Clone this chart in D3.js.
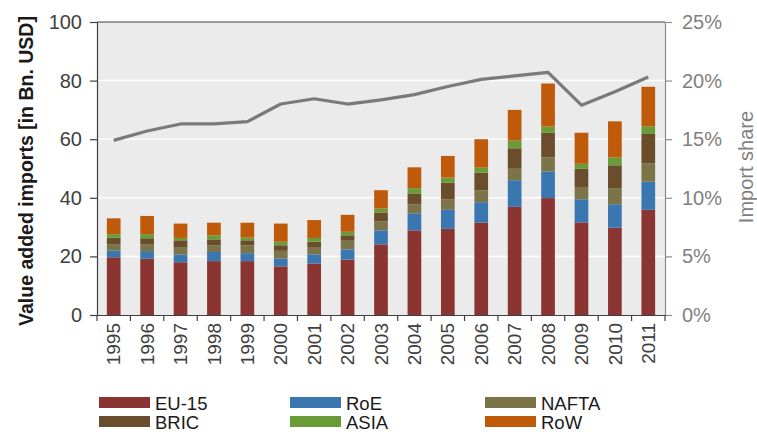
<!DOCTYPE html>
<html>
<head>
<meta charset="utf-8">
<script src="https://cdn.jsdelivr.net/npm/d3@7"></script>
<style>
  body { margin: 0; background: #fff; }
  text { font-family: "Liberation Sans", Arial, sans-serif; }
</style>
</head>
<body>
<script>
// values (Bn. USD)
var years = ["1995","1996","1997","1998","1999","2000","2001","2002","2003","2004","2005","2006","2007","2008","2009","2010","2011"];
var regions = ["EU-15","RoE","NAFTA","BRIC","ASIA","RoW"];
var colors = ["#8b3532","#3a77b0","#7b7449","#6a4d2d","#699b36","#bf5a0b"];

var eu15  = [19.7,19.2,18.0,18.4,18.4,16.6,17.6,18.9,24.1,28.9,29.4,31.5,36.9,39.9,31.6,29.8,35.9];
var roe   = [2.3,2.6,2.7,3.1,2.7,2.7,3.1,3.5,4.8,5.8,6.5,7.0,9.1,9.1,7.9,8.0,9.6];
var nafta = [2.2,2.4,2.5,2.3,2.6,2.6,2.5,3.2,3.1,3.1,3.6,4.1,3.9,4.8,4.2,5.5,6.3];
var bric  = [2.2,2.0,2.3,2.0,1.8,1.9,1.8,1.6,3.0,3.7,5.7,6.0,7.0,8.4,6.2,7.8,10.0];
var asia  = [1.2,1.4,0.8,1.4,0.9,1.2,1.3,1.2,1.3,1.8,1.7,1.7,2.6,2.1,1.7,2.7,2.6];
var row   = [5.4,6.2,4.9,4.3,5.1,6.2,6.1,5.8,6.3,7.1,7.4,9.7,10.5,14.7,10.6,12.3,13.5];

// import share in percent (right axis)
var importShare = [14.9,15.7,16.3,16.3,16.5,18.0,18.45,18.0,18.35,18.8,19.5,20.1,20.4,20.7,17.9,19.05,20.3];

var yTicks = [0,20,40,60,80,100];
var shareTicks = [0,5,10,15,20,25];

var width = 757, height = 434;
var plot = {left: 97, right: 665, top: 22, bottom: 315};

var svg = d3.select("body").append("svg")
            .attr("width", width)
            .attr("height", height);

var x = d3.scaleBand()
          .domain(years)
          .range([plot.left, plot.right]);
var y = d3.scaleLinear()
          .domain([0, 100])
          .range([plot.bottom, plot.top]);
var yShare = d3.scaleLinear()
               .domain([0, 25])
               .range([plot.bottom, plot.top]);

// plot background and gridlines
svg.append("rect")
   .attr("x", plot.left)
   .attr("y", plot.top)
   .attr("width", plot.right - plot.left)
   .attr("height", plot.bottom - plot.top)
   .attr("fill", "#ebebeb");

svg.selectAll(".grid")
   .data(yTicks.slice(1, -1))
   .enter()
   .append("line")
   .attr("class", "grid")
   .attr("x1", plot.left)
   .attr("x2", plot.right)
   .attr("y1", function(d){ return y(d); })
   .attr("y2", function(d){ return y(d); })
   .attr("stroke", "#ffffff")
   .attr("stroke-width", 1.5);

// stacked bars
var table = years.map(function(yr, i){
  return {year: yr, "EU-15": eu15[i], "RoE": roe[i], "NAFTA": nafta[i],
          "BRIC": bric[i], "ASIA": asia[i], "RoW": row[i]};
});
var stacked = d3.stack().keys(regions)(table);
var barWidth = x.bandwidth() * 0.41;

svg.selectAll(".layer")
   .data(stacked)
   .enter()
   .append("g")
   .attr("class", "layer")
   .attr("fill", function(d, i){ return colors[i]; })
   .selectAll("rect")
   .data(function(d){ return d; })
   .enter()
   .append("rect")
   .attr("x", function(d){ return x(d.data.year) + (x.bandwidth() - barWidth) / 2; })
   .attr("width", barWidth)
   .attr("y", function(d){ return y(d[1]); })
   .attr("height", function(d){ return y(d[0]) - y(d[1]); });

// import share line
var line = d3.line()
             .x(function(d, i){ return x(years[i]) + x.bandwidth() / 2; })
             .y(function(d){ return yShare(d); });

svg.append("path")
   .datum(importShare)
   .attr("d", line)
   .attr("fill", "none")
   .attr("stroke", "#7a7a7a")
   .attr("stroke-width", 3.2)
   .attr("stroke-linejoin", "round");

// axes
var leftAxis = svg.append("g")
   .attr("transform", "translate(" + plot.left + ",0)")
   .call(d3.axisLeft(y).tickValues(yTicks).tickSize(7).tickPadding(8));
leftAxis.selectAll("path, line").attr("stroke", "#404040").attr("stroke-width", 1.2);
leftAxis.selectAll("text")
        .attr("font-size", "20px")
        .attr("fill", "#404040")
        .style("font-family", "Liberation Sans, Arial, sans-serif");

var rightAxis = svg.append("g")
   .attr("transform", "translate(" + plot.right + ",0)")
   .call(d3.axisRight(yShare).tickValues(shareTicks)
           .tickFormat(function(d){ return d + "%"; })
           .tickSize(7).tickPadding(10));
rightAxis.selectAll("path, line").attr("stroke", "#8c8c8c").attr("stroke-width", 1.2);
rightAxis.selectAll("text")
         .attr("font-size", "20px")
         .attr("fill", "#7f7f7f")
         .style("font-family", "Liberation Sans, Arial, sans-serif");

var bottomAxis = svg.append("g")
   .attr("transform", "translate(0," + plot.bottom + ")")
   .call(d3.axisBottom(x).tickSize(0).tickPadding(0));
bottomAxis.select(".domain").attr("stroke", "#404040").attr("stroke-width", 1.2);
bottomAxis.selectAll("text")
          .attr("transform", "rotate(-90)")
          .attr("text-anchor", "end")
          .attr("x", -8)
          .attr("y", 0)
          .attr("dy", "0.35em")
          .attr("font-size", "19px")
          .attr("fill", "#404040")
          .style("font-family", "Liberation Sans, Arial, sans-serif");

// ticks between the categories
svg.selectAll(".xtick")
   .data(years.concat(["end"]))
   .enter()
   .append("line")
   .attr("class", "xtick")
   .attr("x1", function(d, i){ return plot.left + i * x.step(); })
   .attr("x2", function(d, i){ return plot.left + i * x.step(); })
   .attr("y1", plot.bottom)
   .attr("y2", plot.bottom + 6)
   .attr("stroke", "#404040")
   .attr("stroke-width", 1.2);

// top border
svg.append("line")
   .attr("x1", plot.left)
   .attr("x2", plot.right)
   .attr("y1", plot.top)
   .attr("y2", plot.top)
   .attr("stroke", "#404040")
   .attr("stroke-width", 1.2);

// axis titles
svg.append("text")
   .attr("transform", "translate(33,171) rotate(-90)")
   .attr("text-anchor", "middle")
   .attr("font-size", "19.5px")
   .attr("font-weight", "bold")
   .attr("fill", "#1a1a1a")
   .text("Value added imports [in Bn. USD]");

svg.append("text")
   .attr("transform", "translate(753,167) rotate(-90)")
   .attr("text-anchor", "middle")
   .attr("font-size", "20px")
   .attr("fill", "#7f7f7f")
   .text("Import share");

// legend
var legendX = [99, 290, 485];
var legendY = [397, 416];

var legend = svg.selectAll(".legend")
   .data(regions)
   .enter()
   .append("g")
   .attr("class", "legend")
   .attr("transform", function(d, i){
     return "translate(" + legendX[i % 3] + "," + legendY[Math.floor(i / 3)] + ")";
   });

legend.append("rect")
      .attr("width", 51)
      .attr("height", 11)
      .attr("fill", function(d, i){ return colors[i]; });

legend.append("text")
      .attr("x", 56)
      .attr("y", 12.5)
      .attr("font-size", "18.5px")
      .attr("fill", "#1a1a1a")
      .text(function(d){ return d; });
</script>
</body>
</html>
